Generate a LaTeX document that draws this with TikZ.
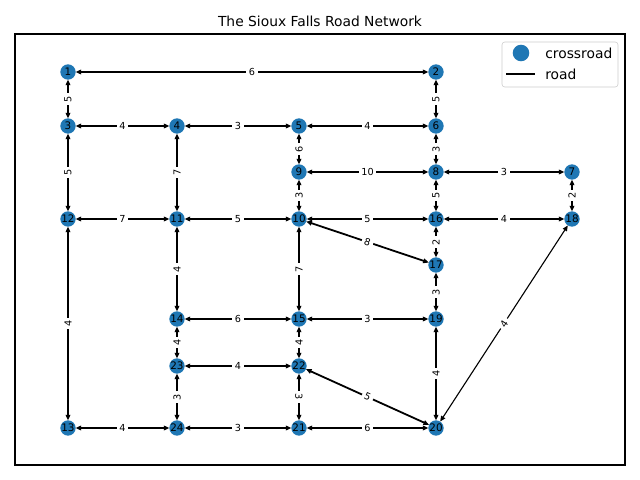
\documentclass[tikz,border=0pt]{standalone}
\usepackage{fontspec}
\setmainfont{DejaVu Sans}
\usetikzlibrary{arrows.meta}
\definecolor{crossblue}{HTML}{1F77B4}
\tikzset{
  crossroad/.style={circle,fill=crossblue,minimum size=3.9mm,inner sep=0pt,outer sep=0pt,font=\fontsize{7.5}{8}\selectfont},
  road/.style={{Triangle[length=4pt,width=3.4pt]}-{Triangle[length=4pt,width=3.4pt]},line width=1.3pt},
  cost/.style={midway,sloped,allow upside down,fill=white,inner sep=2pt,font=\fontsize{7}{8}\selectfont},
}

\begin{document}
\begin{tikzpicture}[x=0.254mm,y=-0.254mm]
\useasboundingbox (0,0) rectangle (640,480);
\node[font=\fontsize{10}{12}\selectfont] (title) at (320,21) {The Sioux Falls Road Network};
\draw[line width=0.8pt] (15,34) rectangle (625,465);
\foreach \n/\x/\y in {1/68/72, 2/436/72, 3/68/126, 4/177/126, 5/299/126, 6/436/126,
  7/572/172, 8/436/172, 9/299/172, 10/299/219, 11/177/219, 12/68/219, 13/68/428,
  14/177/319, 15/299/319, 16/436/219, 17/436/265, 18/572/219, 19/436/319, 20/436/428,
  21/299/428, 22/299/366, 23/177/366, 24/177/428}
  \node[crossroad] (n\n) at (\x,\y) {\n};
\foreach \a/\b/\w in {1/2/6, 3/4/4, 4/5/3, 5/6/4, 9/8/10, 8/7/3, 12/11/7, 11/10/5,
  10/16/5, 16/18/4, 14/15/6, 15/19/3, 23/22/4, 13/24/4, 24/21/3, 21/20/6,
  3/1/5, 12/3/5, 13/12/4, 11/4/7, 14/11/4, 23/14/4, 24/23/3, 9/5/6, 10/9/3,
  15/10/7, 22/15/4, 22/21/3, 6/2/5, 8/6/3, 16/8/5, 17/16/2, 19/17/3, 20/19/4,
  18/7/2, 10/17/8, 22/20/5}
  \draw[road] (n\a) -- node[cost] {\w} (n\b);
\draw[road,line width=0.8pt] (n20) -- node[cost] {4} (n18);
\begin{scope}[font=\fontsize{10}{12}\selectfont]
  \draw[black!20,fill=white,rounded corners=2pt] (502,42) rectangle (618,87);
  \node[circle,fill=crossblue,minimum size=4.2mm,inner sep=0pt] (dot) at (521,53) {};
  \node[anchor=west,inner sep=0pt] (dotlabel) at (545,53) {crossroad};
  \coordinate (roadstart) at (506,74);
  \coordinate (roadend) at (535,74);
  \draw[line width=1pt] (roadstart) -- (roadend);
  \node[anchor=west,inner sep=0pt] (roadlabel) at (545,74) {road};
\end{scope}
\end{tikzpicture}
\end{document}
